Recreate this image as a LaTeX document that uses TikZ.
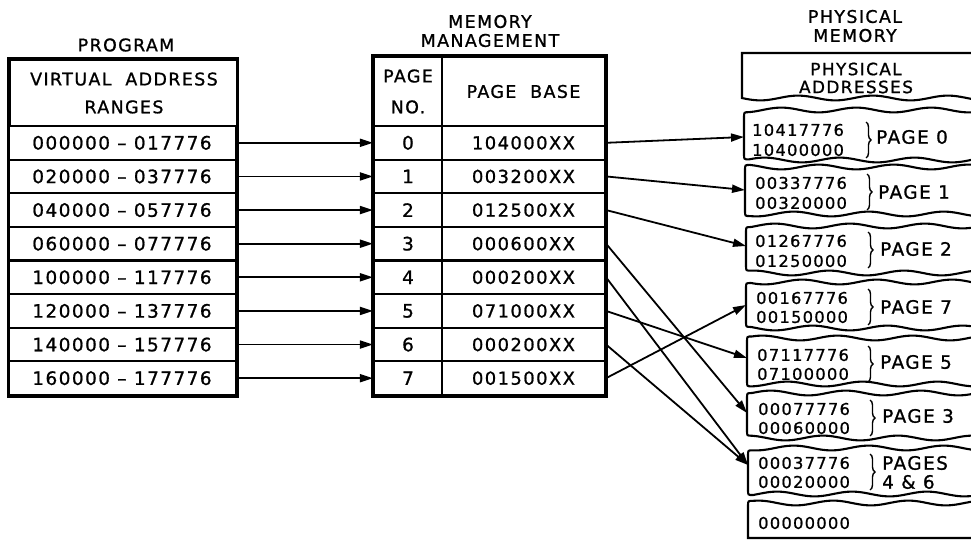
\documentclass[tikz,border=0pt]{standalone}
\usepackage{fontspec}
\setmainfont{DejaVu Sans}[LetterSpace=8, FakeBold=1]
\usetikzlibrary{arrows.meta,decorations.pathreplacing}
\newcommand\pblock[5]{%
  \pgfmathsetmacro\xa{#1+5}%
  \pgfmathsetmacro\yta{#2+wv(#1+5,#4)}%
  \pgfmathsetmacro\yba{#3+wv(#1+5,#5)}%
  \draw[blk] plot[domain=971:\xa, samples=45, smooth] (\x,{#2+wv(\x,#4)})
    .. controls (#1,\yta) .. (#1,\yta+5) -- (#1,\yba-5)
    .. controls (#1,\yba) .. (\xa,\yba)
    -- plot[domain=\xa:971, samples=45, smooth] (\x,{#3+wv(\x,#5)});%
}
\begin{document}
\begin{tikzpicture}[x=1bp,y=-1bp,
  txt/.style={font=\fontsize{17.5}{19}\selectfont, inner sep=0pt},
  cell/.style={draw, line width=2.1bp, inner sep=0pt, font=\fontsize{18.5}{19}\selectfont},
  addr/.style={font=\fontsize{16.3}{19}\selectfont, inner sep=0pt, anchor=west},
  plab/.style={font=\fontsize{18.5}{19}\selectfont, inner sep=0pt, anchor=west, align=left},
  outer/.style={line width=3bp},
  arr/.style={line width=1.8bp, -{Triangle[length=13bp,width=8bp]}},
  blk/.style={line width=2.1bp},
  brc/.style={line width=1.4bp, decorate, decoration={brace, amplitude=5bp}},
  declare function={wv(\x,\p)=2.4*sin(4.8*\x+\p);}
]
\useasboundingbox (0,0) rectangle (971,540);

% titles
\node[txt] (tprog) at (126,45) {PROGRAM};
\node[txt, align=center] (tmm) at (490,31) {MEMORY\\MANAGEMENT};
\node[txt, align=center] (tpm) at (855,26) {PHYSICAL\\MEMORY};

% program table
\node[cell, minimum width=228bp, minimum height=66bp, align=center,
      font=\fontsize{17.5}{28}\selectfont] (vh) at (124,93) {VIRTUAL\ \ ADDRESS\\RANGES};
\foreach \t [count=\i from 0] in {000000 – 017776, 020000 – 037776, 040000 – 057776,
    060000 – 077776, 100000 – 117776, 120000 – 137776, 140000 – 157776, 160000 – 177776}{
  \pgfmathsetmacro\yy{126+33.625*(\i+0.5)}
  \node[cell, minimum width=228bp, minimum height=33.625bp] (p\i) at (122,\yy) {\t};
}
\draw[outer] (vh.north west) rectangle (p7.south east);

% memory management table
\node[cell, minimum width=68bp, minimum height=69bp, align=center,
      font=\fontsize{17.5}{31}\selectfont] (nh) at (408,91.5) {PAGE\\NO.};
\node[cell, minimum width=163bp, minimum height=69bp, font=\fontsize{17.5}{19}\selectfont] (bh) at (523.5,91.5) {PAGE\ \ BASE};
\foreach \b [count=\i from 0] in {104000XX, 003200XX, 012500XX, 000600XX,
    000200XX, 071000XX, 000200XX, 001500XX}{
  \pgfmathsetmacro\yy{126+33.625*(\i+0.5)}
  \node[cell, minimum width=68bp, minimum height=33.625bp] (n\i) at (408,\yy) {\i};
  \node[cell, minimum width=163bp, minimum height=33.625bp, font=\fontsize{18}{19}\selectfont] (b\i) at (523.5,\yy) {\b};
}
\draw[outer] (nh.north west) rectangle (b7.south east);

% program -> memory management
\foreach \i in {0,...,7}{
  \draw[arr] (p\i.east) -- (n\i.west);
}

% physical memory
\draw[blk] plot[domain=971:742, samples=45, smooth] (\x,{98+wv(\x,40)}) -- (742,53) -- (971,53);
\node[txt, align=center, font=\fontsize{17}{18}\selectfont] (pah) at (856,78) {PHYSICAL\\ADDRESSES};

\pblock{744}{110}{160}{120}{200}
\pblock{745}{167}{214}{300}{60}
\pblock{746}{226}{273}{150}{250}
\pblock{746}{282}{328}{20}{330}
\pblock{747}{338}{384}{210}{90}
\pblock{747}{393}{438}{170}{280}
\pblock{748}{448}{494}{60}{140}
\pgfmathsetmacro\yl{503+wv(753,230)}
\draw[blk] plot[domain=971:753, samples=45, smooth] (\x,{503+wv(\x,230)})
  .. controls (748,\yl) .. (748,\yl+5) -- (748,538) -- (971,538);

\coordinate (ph0) at (744,137);
\coordinate (ph1) at (745,190);
\coordinate (ph2) at (746,246);
\coordinate (ph7) at (746,305);
\coordinate (ph5) at (747,358);
\coordinate (ph3) at (747,413);
\coordinate (ph46) at (748,465);

% block texts
\node[addr] (a0a) at (752,130) {10417776};
\node[addr] (a0b) at (752,150) {10400000};
\draw[brc] (866,122) -- (866,158);
\node[plab] (l0) at (876,137) {PAGE 0};

\node[addr] (a1a) at (755,183) {00337776};
\node[addr] (a1b) at (755,203) {00320000};
\draw[brc] (867,174) -- (867,210);
\node[plab] (l1) at (878,192) {PAGE 1};

\node[addr] (a2a) at (755,241) {01267776};
\node[addr] (a2b) at (755,261) {01250000};
\draw[brc] (868,232) -- (868,268);
\node[plab] (l2) at (880,249) {PAGE 2};

\node[addr] (a7a) at (756,298) {00167776};
\node[addr] (a7b) at (756,317) {00150000};
\draw[brc] (868,289) -- (868,325);
\node[plab] (l7) at (880,307) {PAGE 7};

\node[addr] (a5a) at (757,355) {07117776};
\node[addr] (a5b) at (757,374) {07100000};
\draw[brc] (868,346) -- (868,382);
\node[plab] (l5) at (880,362) {PAGE 5};

\node[addr] (a3a) at (758,409) {00077776};
\node[addr] (a3b) at (758,428) {00060000};
\draw[brc] (870,400) -- (870,436);
\node[plab] (l3) at (882,416) {PAGE 3};

\node[addr] (a4a) at (758,463) {00037776};
\node[addr] (a4b) at (758,482) {00020000};
\draw[brc] (870,454) -- (870,490);
\node[plab] (l4a) at (882,463) {PAGES};
\node[plab] (l4b) at (882,482) {4 \& 6};

\node[addr] (a8) at (758,523) {00000000};

% memory management -> physical
\draw[arr] (b0.east) -- (ph0);
\draw[arr] (b1.east) -- (ph1);
\draw[arr] (b2.east) -- (ph2);
\draw[arr] (b3.east) -- (ph3);
\draw[arr] (b4.east) -- (ph46);
\draw[arr] (b5.east) -- (ph5);
\draw[arr] (b6.east) -- (ph46);
\draw[arr] (b7.east) -- (ph7);
\end{tikzpicture}
\end{document}
